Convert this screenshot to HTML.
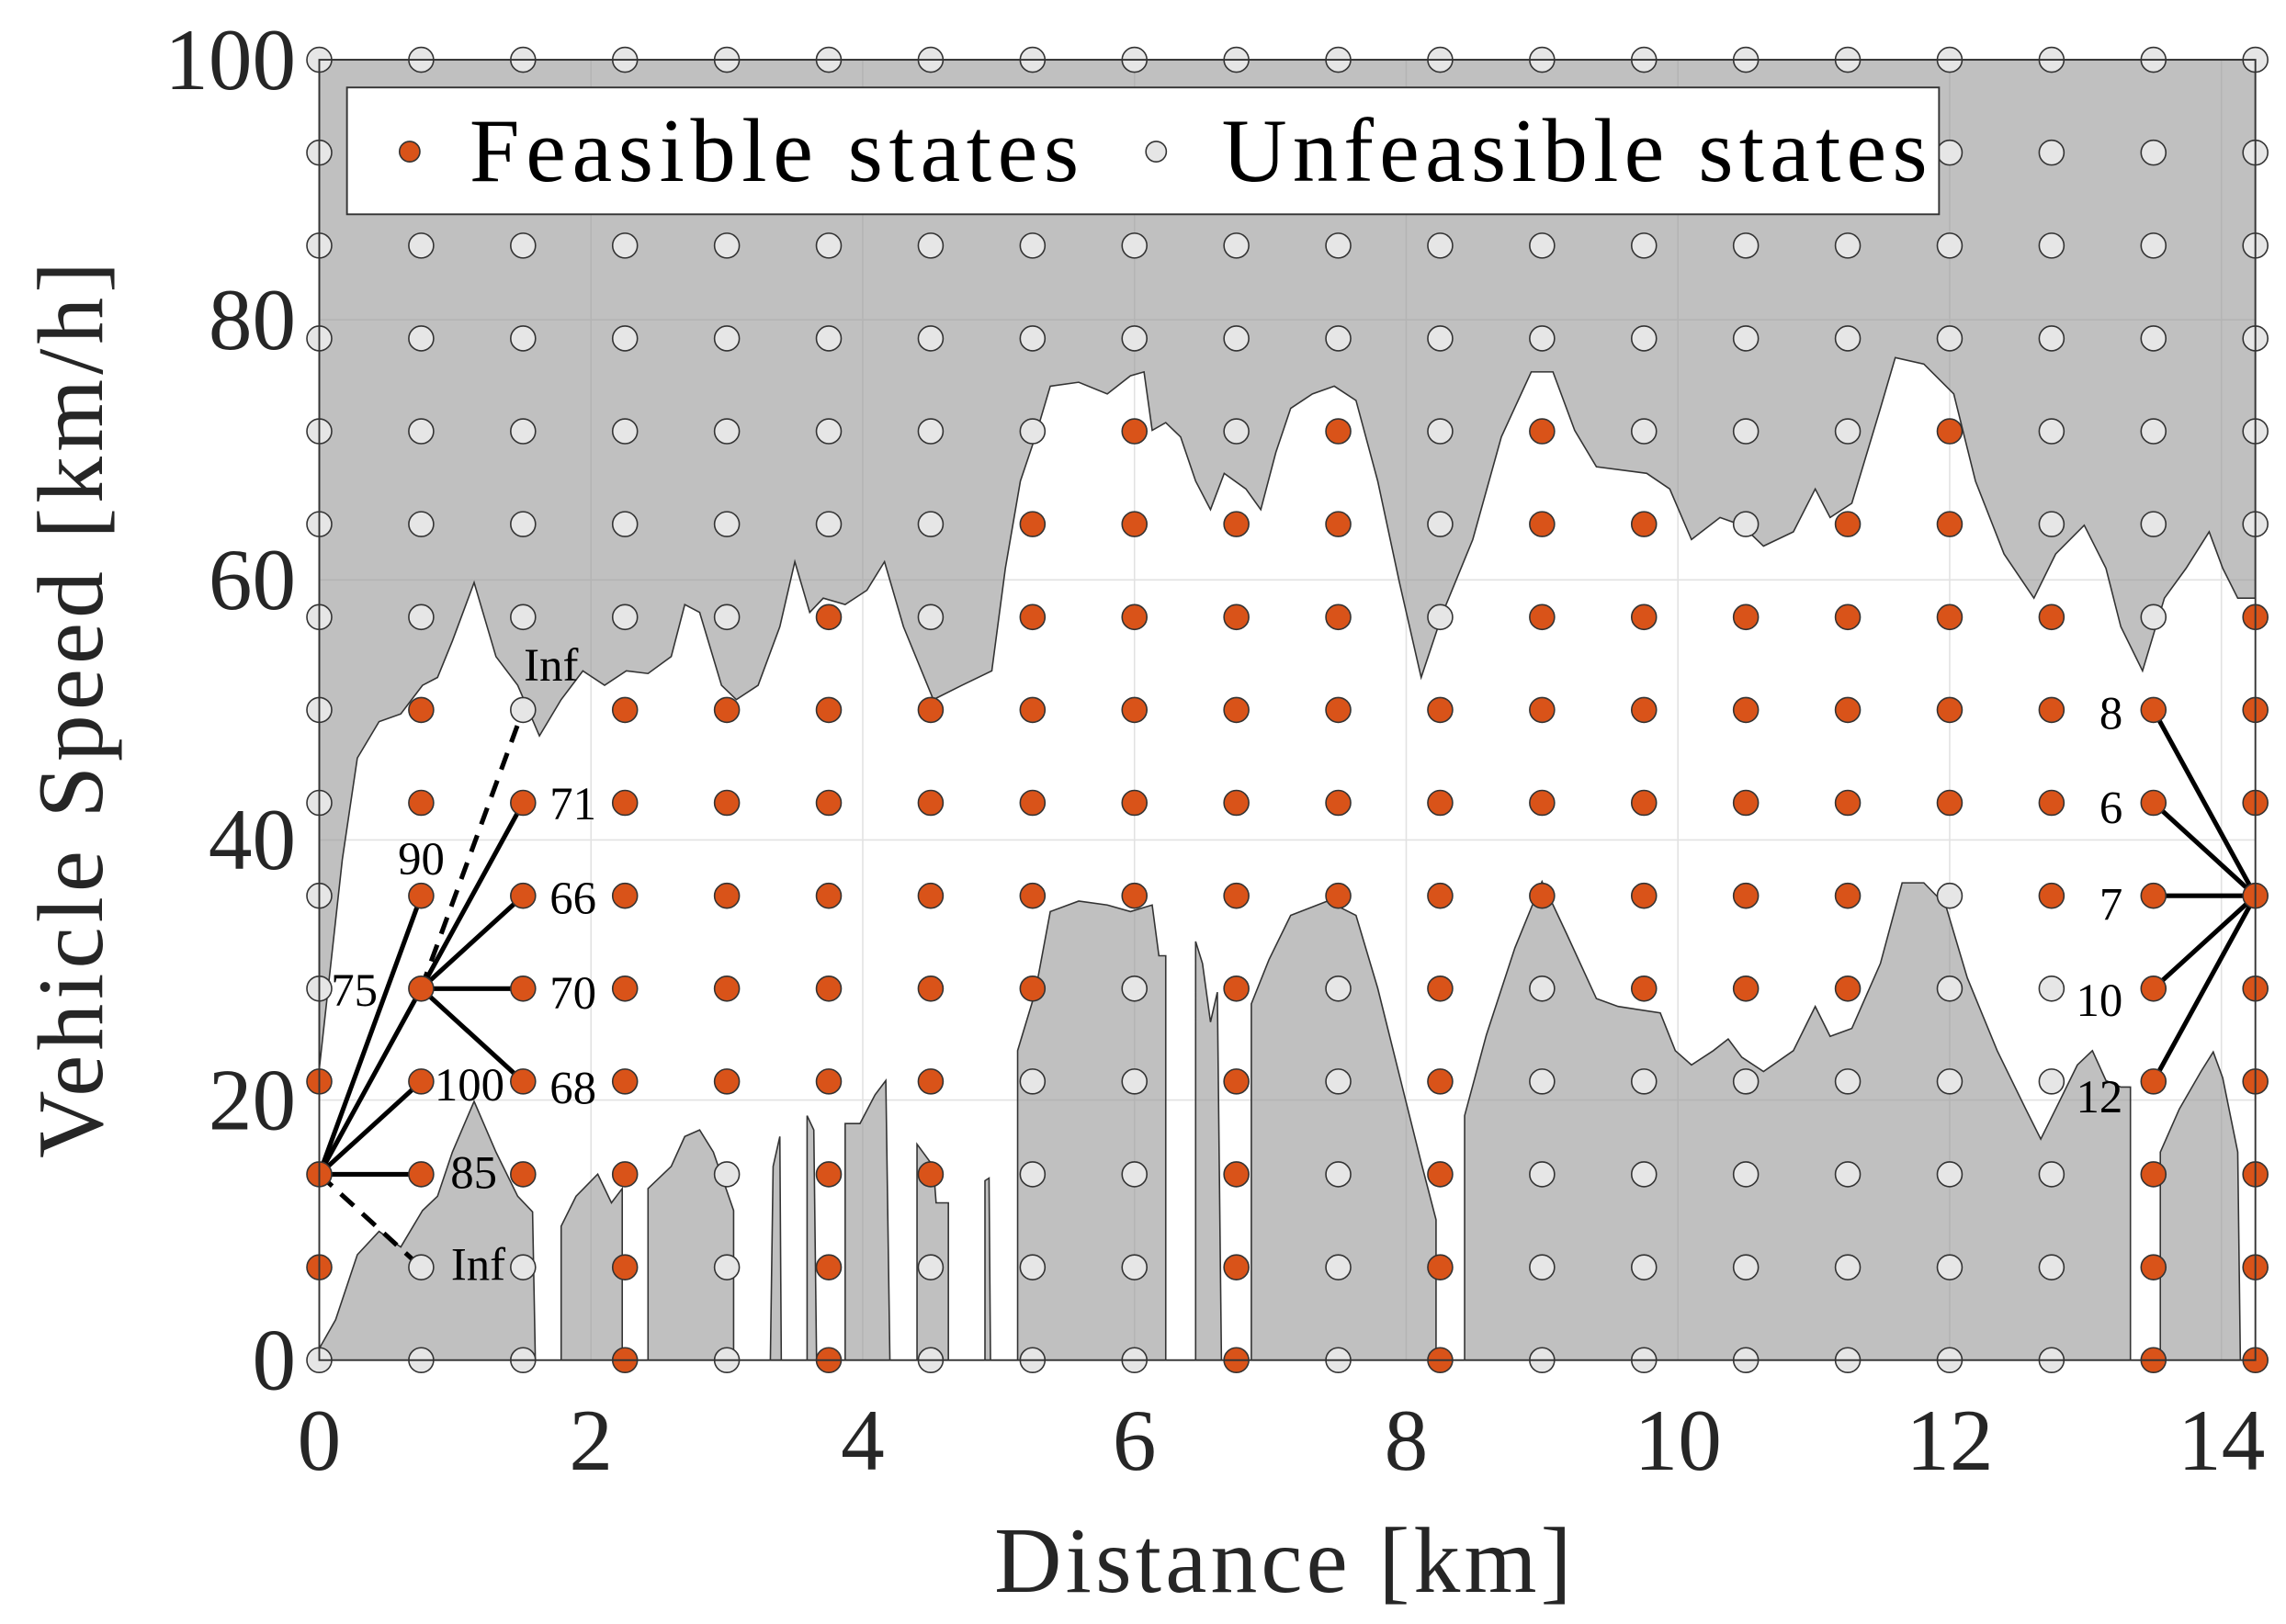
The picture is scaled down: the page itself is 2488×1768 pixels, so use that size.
<!DOCTYPE html>
<html><head><meta charset="utf-8"><style>
html,body{margin:0;padding:0;background:#fff;}
svg{display:block;font-family:"Liberation Serif",serif;}
</style></head><body>
<svg id="chart" width="2488" height="1768" viewBox="0 0 1568 1114" preserveAspectRatio="none" xmlns="http://www.w3.org/2000/svg">
<g id="bg"></g><g id="grid"></g><g id="fills"></g><g id="lines"></g><g id="dots"></g><g id="labels"></g><g id="axes"></g>
</svg>
<script>
const xTicks=[0,2,4,6,8,10,12,14];
const yTicks=[0,20,40,60,80,100];
const colDist=[0,0.75,1.5,2.25,3,3.75,4.5,5.25,6,6.75,7.5,8.25,9,9.75,10.5,11.25,12,12.75,13.5,14.25];
const rowSpeed=[0,7.14,14.29,21.43,28.57,35.71,42.86,50,57.14,64.29,71.43,78.57,85.71,92.86,100];
// feasible rows per column (row indices)
const feasible=[[1,2,3],[2,3,4,5,6,7],[2,3,4,5,6],[0,1,2,3,4,5,6,7],[3,4,5,6,7],[0,1,2,3,4,5,6,7,8],[2,3,4,5,6,7],[4,5,6,7,8,9],[5,6,7,8,9,10],[0,1,2,3,4,5,6,7,8,9],[5,6,7,8,9,10],[0,1,2,3,4,5,6,7],[5,6,7,8,9,10],[4,5,6,7,8,9],[4,5,6,7,8],[4,5,6,7,8,9],[6,7,8,9,10],[5,6,7,8],[0,1,2,3,4,5,6,7],[0,1,2,3,4,5,6,7,8]];
const upperDist=[0,0.17,0.28,0.44,0.60,0.76,0.87,0.98,1.14,1.30,1.46,1.62,1.78,1.94,2.10,2.26,2.42,2.59,2.69,2.80,2.96,3.07,3.23,3.39,3.50,3.61,3.71,3.87,4.03,4.16,4.30,4.52,4.73,4.95,5.05,5.16,5.27,5.38,5.59,5.80,5.97,6.07,6.13,6.23,6.34,6.45,6.56,6.66,6.82,6.93,7.04,7.15,7.31,7.47,7.63,7.79,7.95,8.11,8.27,8.49,8.70,8.92,9.08,9.24,9.40,9.77,9.94,10.10,10.31,10.47,10.63,10.85,11.01,11.12,11.28,11.49,11.60,11.81,12.03,12.19,12.40,12.62,12.78,12.99,13.15,13.26,13.42,13.58,13.74,13.91,14.01,14.12,14.25];
const upperSpeed=[22.4,38.5,46.3,49.1,49.7,51.9,52.5,55.3,59.8,54.1,51.9,48.0,50.8,53.0,51.9,53.0,52.8,54.1,58.1,57.5,51.9,50.8,51.9,56.4,61.4,57.5,58.6,58.1,59.2,61.4,56.4,50.8,51.9,53.0,60.9,67.6,71.0,74.9,75.2,74.3,75.7,76.0,71.5,72.1,71.0,67.6,65.4,68.2,67.0,65.4,69.8,73.2,74.3,74.9,73.8,67.6,59.8,52.5,57.5,63.1,71.0,76.0,76.0,71.5,68.7,68.2,67.0,63.1,64.8,64.2,62.6,63.7,67.0,64.8,65.9,73.2,77.1,76.6,74.3,67.6,62.0,58.6,62.0,64.2,60.9,56.4,53.0,58.6,60.9,63.7,60.9,58.6,58.6];
const lowerSegs=[
[[0,0],[0,0.9],[0.12,3.1],[0.28,8.1],[0.44,9.9],[0.60,8.7],[0.76,11.5],[0.87,12.6],[0.98,16.0],[1.14,19.9],[1.30,16.0],[1.46,12.6],[1.57,11.4],[1.59,0]],
[[1.78,0],[1.78,10.3],[1.89,12.6],[2.05,14.3],[2.15,12.1],[2.23,13.2],[2.23,0]],
[[2.42,0],[2.42,13.2],[2.59,14.9],[2.69,17.2],[2.80,17.7],[2.90,16.0],[3.05,11.5],[3.05,0]],
[[3.32,0],[3.34,14.9],[3.39,17.2],[3.40,0]],
[[3.59,0],[3.59,18.8],[3.64,17.7],[3.66,0]],
[[3.87,0],[3.87,18.2],[3.98,18.2],[4.09,20.4],[4.17,21.5],[4.20,0]],
[[4.40,0],[4.40,16.6],[4.52,14.9],[4.54,12.1],[4.63,12.1],[4.63,0]],
[[4.90,0],[4.90,13.8],[4.93,14.0],[4.94,0]],
[[5.14,0],[5.14,23.8],[5.27,28.3],[5.38,34.5],[5.59,35.3],[5.80,35.0],[5.97,34.5],[6.13,35.0],[6.18,31.1],[6.23,31.1],[6.23,0]],
[[6.45,0],[6.45,32.2],[6.50,30.5],[6.56,26.0],[6.61,28.3],[6.64,0]],
[[6.86,0],[6.86,27.4],[6.99,30.8],[7.15,34.2],[7.42,35.3],[7.63,34.2],[7.79,28.6],[7.95,21.9],[8.11,15.2],[8.22,10.8],[8.22,0]],
[[8.43,0],[8.43,18.8],[8.59,25.0],[8.80,31.7],[9.00,36.8],[9.18,32.8],[9.40,27.8],[9.56,27.2],[9.87,26.7],[9.98,23.8],[10.10,22.7],[10.26,23.8],[10.37,24.7],[10.47,23.3],[10.63,22.2],[10.85,23.8],[11.01,27.2],[11.12,24.9],[11.28,25.5],[11.49,30.5],[11.65,36.7],[11.81,36.7],[11.97,35.0],[12.13,29.4],[12.35,23.8],[12.56,19.3],[12.67,17.0],[12.78,19.3],[12.94,22.7],[13.05,23.8],[13.15,21.5],[13.26,21.0],[13.33,21.0],[13.33,0]],
[[13.55,0],[13.55,16.0],[13.69,19.3],[13.85,22.2],[13.94,23.7],[14.01,21.7],[14.12,16.0],[14.14,0]]];
// transitions: [fromCol,fromRow,toCol,toRow,label,dashed]
const transitions=[[0,2,1,2,"85",0],[0,2,1,3,"100",0],[0,2,1,4,"75",0],[0,2,1,5,"90",0],[0,2,1,1,"Inf",1],
[1,4,2,3,"68",0],[1,4,2,4,"70",0],[1,4,2,5,"66",0],[1,4,2,6,"71",0],[1,4,2,7,"Inf",1],
[18,7,19,5,"8",0],[18,6,19,5,"6",0],[18,5,19,5,"7",0],[18,4,19,5,"10",0],[18,3,19,5,"12",0]];
const labelPos=[[325,815],[322,755],[243,690],[289,600],[328,878],[393,757],[393,692],[393,627],[393,562],[378,467],[1448,500],[1448,565],[1448,631],[1440,697],[1440,763]];

const X0=219,X1=1547,Y0=933,Y1=41,XMAX=14.25;
const xs=d=>X0+(d/XMAX)*(X1-X0);
const ys=v=>Y0-(v/100)*(Y0-Y1);
const NS="http://www.w3.org/2000/svg";
function mk(tag,parent,attrs){const e=document.createElementNS(NS,tag);for(const k in attrs)e.setAttribute(k,attrs[k]);document.getElementById(parent).appendChild(e);return e;}

let e=mk('rect','bg',{x:X0,y:Y1,width:X1-X0,height:Y0-Y1,fill:'#fff'});



xTicks.forEach(t=>{const g=mk('line','grid',{x1:xs(t),x2:xs(t),y1:Y1,y2:Y0,stroke:'#e2e2e2','stroke-width':1});

});
yTicks.forEach(t=>{const g=mk('line','grid',{x1:X0,x2:X1,y1:ys(t),y2:ys(t),stroke:'#e2e2e2','stroke-width':1});

});

// upper infeasible region
let d='M'+xs(0)+','+Y1+' '+upperDist.map((x,i)=>'L'+xs(x).toFixed(1)+','+ys(upperSpeed[i]).toFixed(1)).join(' ')+' L'+X1+','+Y1+'Z';
e=mk('path','fills',{d:d,fill:'rgba(150,150,150,0.6)',stroke:'#333','stroke-width':1});


lowerSegs.forEach(seg=>{const p=mk('path','fills',{d:'M'+seg.map(q=>xs(q[0]).toFixed(1)+','+ys(q[1]).toFixed(1)).join(' L')+'Z',fill:'rgba(150,150,150,0.6)',stroke:'#333','stroke-width':1});

});

transitions.forEach((t,i)=>{const l=mk('line','lines',{x1:xs(colDist[t[0]]),y1:ys(rowSpeed[t[1]]),x2:xs(colDist[t[2]]),y2:ys(rowSpeed[t[3]]),stroke:'#000','stroke-width':3.2,'stroke-dasharray':t[5]?'12,8':'none'});


const tx=mk('text','labels',{x:labelPos[i][0],y:labelPos[i][1],'font-size':32,'text-anchor':'middle',fill:'#000'});
tx.textContent=t[4];

});

colDist.forEach((cd,c)=>{rowSpeed.forEach((rv,r)=>{const f=feasible[c].includes(r);
const ci=mk('circle','dots',{cx:xs(cd),cy:ys(rv),r:8.5,fill:f?'#d95319':'#e6e6e6',stroke:'#333','stroke-width':1});

});});

// axes
e=mk('rect','axes',{x:X0,y:Y1,width:X1-X0,height:Y0-Y1,fill:'none',stroke:'#333','stroke-width':1.2});


xTicks.forEach(t=>{const tx=mk('text','axes',{x:xs(t),y:1008,'font-size':60,'text-anchor':'middle',fill:'#262626'});tx.textContent=t;

});
yTicks.forEach(t=>{const tx=mk('text','axes',{x:203,y:ys(t)+20,'font-size':60,'text-anchor':'end',fill:'#262626'});tx.textContent=t;

});
e=mk('text','axes',{x:880,y:1092,'font-size':64,'text-anchor':'middle',fill:'#262626',textLength:396});e.textContent='Distance [km]';


e=mk('text','axes',{x:0,y:0,'font-size':64,'text-anchor':'middle',fill:'#262626',transform:'translate(70,487) rotate(-90)',textLength:615});e.textContent='Vehicle Speed [km/h]';



// legend
e=mk('rect','axes',{x:238,y:60,width:1092,height:87,fill:'#fff',stroke:'#333','stroke-width':1.2});


e=mk('circle','axes',{cx:281,cy:104,r:7,fill:'#d95319',stroke:'#333','stroke-width':1});


e=mk('text','axes',{x:322,y:124,'font-size':62,fill:'#000',textLength:418});e.textContent='Feasible states';


e=mk('circle','axes',{cx:793,cy:104,r:7,fill:'#e6e6e6',stroke:'#333','stroke-width':1});


e=mk('text','axes',{x:838,y:124,'font-size':62,fill:'#000',textLength:484});e.textContent='Unfeasible states';


</script>
</body></html>
